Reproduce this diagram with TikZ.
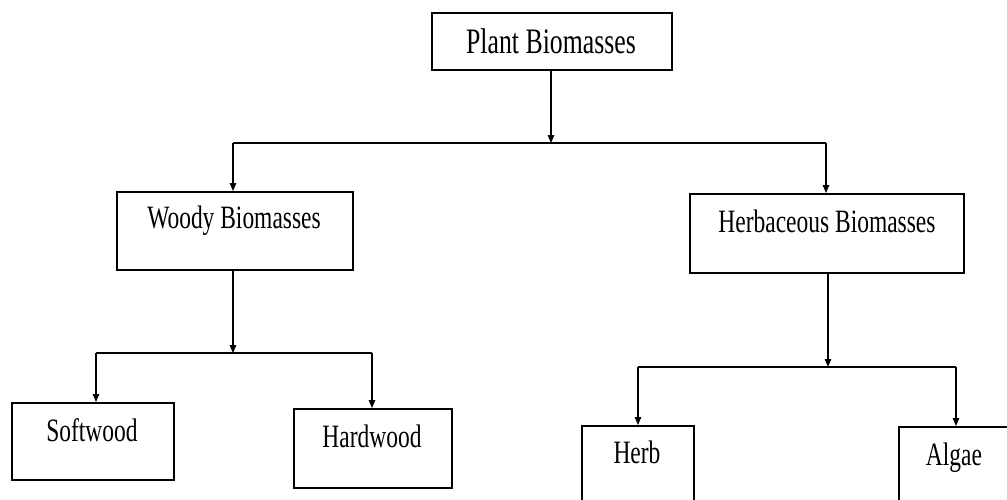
\documentclass[tikz,border=0pt]{standalone}
\usepackage{fontspec}
\setmainfont[FakeStretch=0.72]{Liberation Serif}
\usetikzlibrary{arrows.meta}
\begin{document}
\begin{tikzpicture}[x=1pt,y=-1pt,
  boxnode/.style={draw=black, line width=1.5pt, inner sep=0pt, anchor=north west},
  txt/.style={inner sep=0pt, anchor=base, font=\fontsize{32.6}{36}\selectfont},
  bigtxt/.style={inner sep=0pt, anchor=base, font=\fontsize{35.8}{40}\selectfont},
  conn/.style={line width=1.2pt, draw=black},
  arr/.style={conn, -{Triangle[length=8pt,width=6.5pt]}}]
\useasboundingbox (0,0) rectangle (1007,499);
\clip (0,0) rectangle (1007,499);
% boxes
\node[boxnode, minimum width=240pt, minimum height=57pt] (plant) at (431,12) {};
\node[boxnode, minimum width=236pt, minimum height=78pt] (woody) at (116,191) {};
\node[boxnode, minimum width=274pt, minimum height=79pt] (herbac) at (689,193) {};
\node[boxnode, minimum width=162pt, minimum height=77pt] (soft) at (11,402) {};
\node[boxnode, minimum width=158pt, minimum height=79pt] (hard) at (293,408) {};
\node[boxnode, minimum width=112pt, minimum height=85pt] (herb) at (581,425) {};
\node[boxnode, minimum width=130pt, minimum height=85pt] (algae) at (898,426) {};
% texts
\node[bigtxt] (tplant) at (551,53) {Plant Biomasses};
\node[txt] (twoody) at (234,228) {Woody Biomasses};
\node[txt] (therbac) at (827,232) {Herbaceous Biomasses};
\node[txt] (tsoft) at (92,441) {Softwood};
\node[txt] (thard) at (372,447) {Hardwood};
\node[txt] (therb) at (637,463) {Herb};
\node[txt] (talgae) at (954,465) {Algae};
% junctions
\coordinate (j1) at (551,143);
\coordinate (j1l) at (233,143);
\coordinate (j1r) at (826,143);
\coordinate (j2) at (233,353);
\coordinate (j2l) at (96,353);
\coordinate (j2r) at (372,353);
\coordinate (j3) at (828,367);
\coordinate (j3l) at (638,367);
\coordinate (j3r) at (956,367);
% connectors
\draw[arr] (j1 |- plant.south) -- (j1);
\draw[conn] (j1l) -- (j1r);
\draw[arr] (j1l) -- (j1l |- woody.north);
\draw[arr] (j1r) -- (j1r |- herbac.north);
\draw[arr] (j2 |- woody.south) -- (j2);
\draw[conn] (j2l) -- (j2r);
\draw[arr] (j2l) -- (j2l |- soft.north);
\draw[arr] (j2r) -- (j2r |- hard.north);
\draw[arr] (j3 |- herbac.south) -- (j3);
\draw[conn] (j3l) -- (j3r);
\draw[arr] (j3l) -- (j3l |- herb.north);
\draw[arr] (j3r) -- (j3r |- algae.north);
\end{tikzpicture}
\end{document}
